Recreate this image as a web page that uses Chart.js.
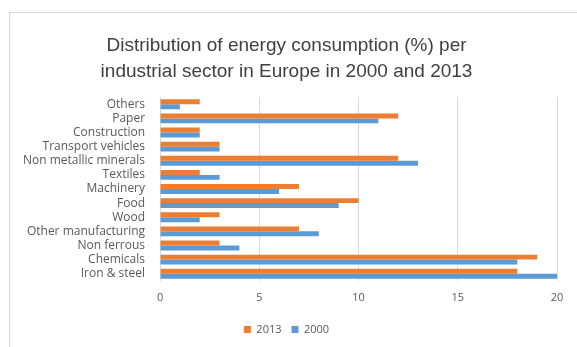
<!DOCTYPE html>
<html>
<head>
<meta charset="utf-8">
<script src="https://cdn.jsdelivr.net/npm/chart.js@4/dist/chart.umd.min.js"></script>
<style>
    body { margin: 0; background: #fff; }
    #frame { position: absolute; left: 9px; top: 12px; width: 600px; height: 400px; border: 1px solid #d9d9d9; }
    #wrap { position: absolute; left: 0; top: 0; width: 577px; height: 347px; }
</style>
</head>
<body>
<div id="frame"></div>
<div id="wrap"><canvas id="energyChart" width="577" height="347"></canvas></div>
<script>
const sectors = ['Others', 'Paper', 'Construction', 'Transport vehicles', 'Non metallic minerals', 'Textiles',
    'Machinery', 'Food', 'Wood', 'Other manufacturing', 'Non ferrous', 'Chemicals', 'Iron & steel'];
const values2013 = [2, 12, 2, 3, 12, 2, 7, 10, 3, 7, 3, 19, 18];
const values2000 = [1, 11, 2, 3, 13, 3, 6, 9, 2, 8, 4, 18, 20];
const xTicks = [0, 5, 10, 15, 20];

const textColor = '#595959';
const tickFont = {family: 'Open Sans', size: 11};

const ctx = document.getElementById('energyChart').getContext('2d');
const chart = new Chart(ctx, {
    type: 'bar',
    data: {
        labels: sectors,
        datasets: [
            {label: '2013', data: values2013, backgroundColor: '#ED7D31'},
            {label: '2000', data: values2000, backgroundColor: '#5B9BD5'}
        ]
    },
    options: {
        indexAxis: 'y',
        responsive: false,
        animation: false,
        layout: {padding: {left: 16, right: 20, top: 24, bottom: 2}},
        datasets: {bar: {categoryPercentage: 0.7, barPercentage: 1.0}},
        scales: {
            x: {
                min: 0,
                max: 20,
                afterBuildTicks: axis => { axis.ticks = xTicks.map(v => ({value: v})); },
                grid: {color: '#d9d9d9', drawTicks: false},
                border: {display: false},
                ticks: {color: textColor, font: tickFont, padding: 10}
            },
            y: {
                grid: {display: false},
                border: {display: false},
                ticks: {color: textColor, font: {family: 'Open Sans', size: 12}, padding: 7, autoSkip: false}
            }
        },
        plugins: {
            title: {
                display: true,
                text: ['Distribution of energy consumption (%) per', 'industrial sector in Europe in 2000 and 2013'],
                color: '#404040',
                font: {family: 'Liberation Sans', size: 19, weight: 'normal', lineHeight: 1.4},
                padding: {top: 8, bottom: 12}
            },
            legend: {
                position: 'bottom',
                labels: {color: textColor, font: tickFont, boxWidth: 7, boxHeight: 7, padding: 10}
            },
            tooltip: {enabled: false}
        }
    }
});
</script>
</body>
</html>
